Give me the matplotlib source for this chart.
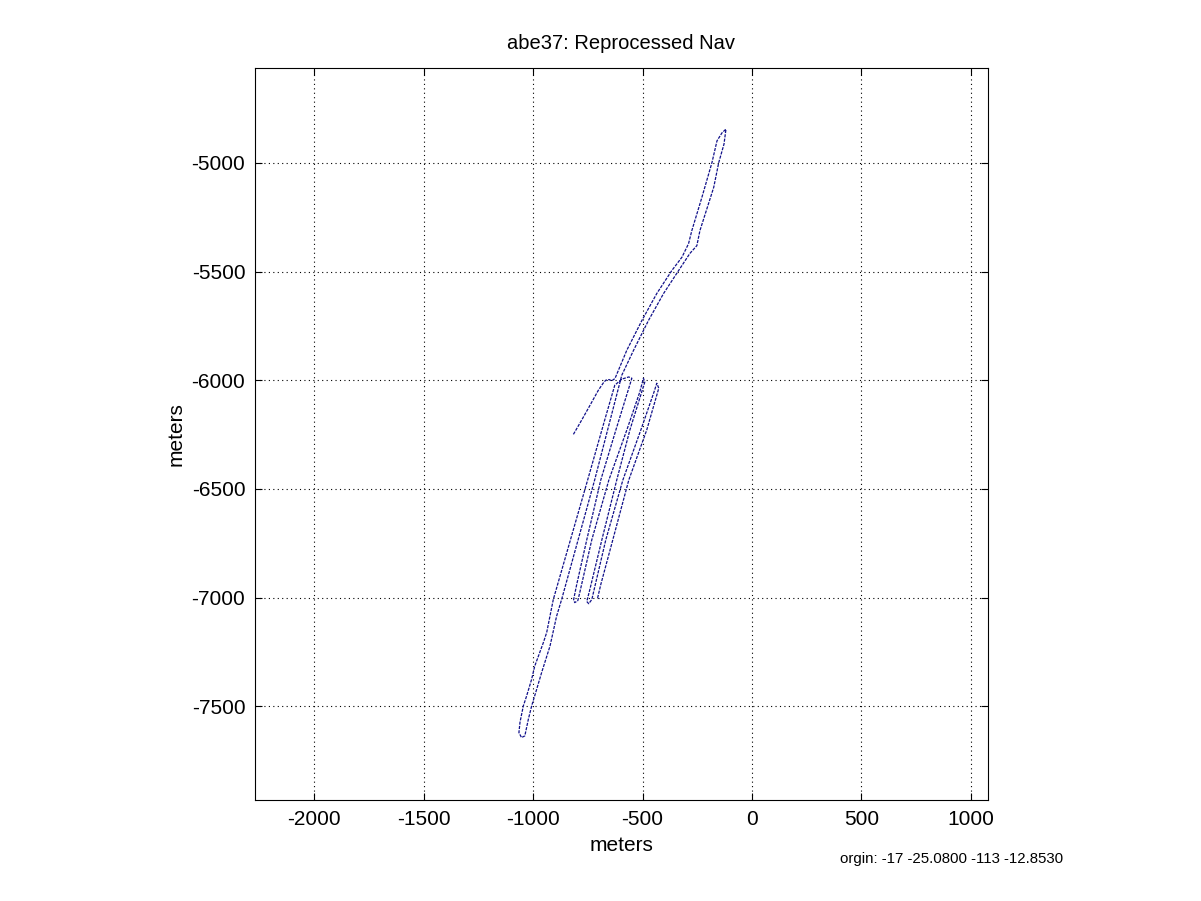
import matplotlib
matplotlib.use("Agg")
import numpy as np
from matplotlib import pyplot as plt

plt.rcParams["font.family"] = ["Liberation Sans", "DejaVu Sans"]

# vehicle track, meters east / north of origin
# approach leg, long transit out and back, then the survey lanes
track_x = [
    -816, -778, -740, -702, -679, -668, -653, -641, -626,
    -572, -503, -435, -366, -320, -290, -275, -229, -183, -160, -137, -119,
    -128, -152, -175, -238, -252, -284, -335, -404, -473, -541, -595,
    -719, -870, -893, -923, -961, -984, -1007, -1022, -1038, -1053,
    -1065, -1060, -1045, -1030, -1007, -993, -953, -938, -908, -751, -673, -627,
    -595, -563, -549,
    -622, -691, -755, -801, -815, -810, -796,
    -787, -732, -654, -572, -513, -496, -490,
    -558, -618, -686, -741, -755, -746, -732,
    -668, -590, -508, -448, -435, -426,
    -481, -563, -636, -691, -705, -696,
]
track_y = [
    -6249, -6183, -6115, -6046, -6012, -6000, -5997, -6003, -5992,
    -5862, -5725, -5601, -5495, -5434, -5372, -5312, -5159, -4999, -4899, -4862, -4845,
    -4914, -4999, -5113, -5312, -5381, -5417, -5495, -5601, -5725, -5862, -5977,
    -6459, -7009, -7086, -7223, -7344, -7422, -7499, -7560, -7636, -7644,
    -7621, -7573, -7499, -7453, -7376, -7316, -7206, -7160, -7009, -6459, -6183, -6023,
    -5995, -5985, -5991,
    -6229, -6459, -6734, -6940, -7009, -7023, -7014,
    -6977, -6734, -6459, -6229, -6055, -5991, -6009,
    -6229, -6459, -6734, -6963, -7018, -7028, -7009,
    -6734, -6459, -6229, -6055, -6014, -6037,
    -6229, -6459, -6734, -6940, -7000, -7005,
]

x_ticks = [-2000, -1500, -1000, -500, 0, 500, 1000]
y_ticks = [-5000, -5500, -6000, -6500, -7000, -7500]

fig = plt.figure(figsize=(12.01, 9.01), dpi=100)
ax = fig.add_axes([0.2123, 0.1121, 0.6103, 0.8124])

ax.plot(track_x, track_y, color="#10108a", linewidth=0.9, linestyle=(0, (2.5, 1)))

ax.set_xlim(-2271, 1078)
ax.set_ylim(-7931, -4564)
ax.set_xticks(x_ticks)
ax.set_yticks(y_ticks)
ax.set_xticklabels([str(v) for v in x_ticks])
ax.set_yticklabels([str(v) for v in y_ticks])
ax.tick_params(direction="in", length=5, labelsize=15, top=True, right=True, pad=7)
ax.grid(True, linestyle=(0, (1, 3)), color="black", linewidth=0.8)
for s in ax.spines.values():
    s.set_linewidth(0.8)

ax.set_title("abe37: Reprocessed Nav", fontsize=14.5, pad=14)
ax.set_xlabel("meters", fontsize=15, labelpad=5)
ax.set_ylabel("meters", fontsize=15, labelpad=4)

fig.text(0.6994, 0.0426, "orgin: -17 -25.0800 -113 -12.8530", fontsize=10.8)

fig.savefig("out.png", dpi=100)
